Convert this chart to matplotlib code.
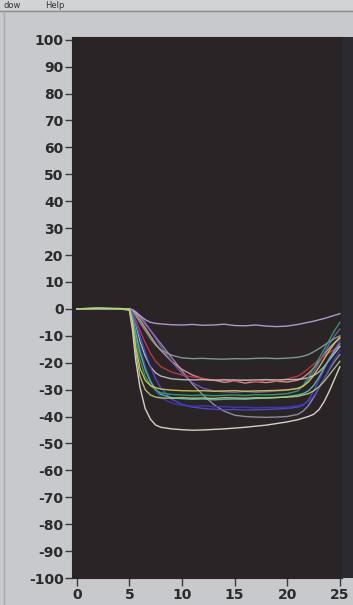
import matplotlib as mpl
import matplotlib.pyplot as plt
from matplotlib.patches import Rectangle
from matplotlib.lines import Line2D

mpl.rcParams['axes.unicode_minus'] = False
mpl.rcParams['font.family'] = 'DejaVu Sans'

# sample times shared by every trace
t = [0, 2, 4, 5, 5.3, 5.6, 6, 6.5, 7, 7.5, 8, 9, 10, 11, 12, 13, 14, 15, 16,
     17, 18, 19, 20, 21, 21.5, 22, 22.5, 23, 23.5, 24, 24.5, 25]

lavender = [0, 0.2, 0, 0, -0.5, -1.2, -2.5, -4, -5, -5.4, -5.6, -5.9, -6.0, -5.8, -6.1, -6.0,
            -5.7, -6.2, -6.3, -6.0, -6.4, -6.6, -6.4, -5.8, -5.4, -5.0, -4.6, -4.1, -3.6, -3.0, -2.4, -1.8]
teal_grey = [0, 0, 0.1, 0, -0.8, -2.5, -5, -8, -11, -13.5, -15.3, -17.2, -18.2, -18.5, -18.4, -18.6,
             -18.7, -18.5, -18.6, -18.4, -18.3, -18.5, -18.3, -18.0, -17.6, -17.0, -16.0, -14.8, -13.5, -12.2, -11, -10]
red = [0, 0, 0, 0, -1.5, -4, -8, -12.5, -16.5, -19.5, -21.5, -23.5, -24.6, -25.3, -25.8, -26.6,
       -26.2, -27.0, -26.5, -27.2, -26.4, -26.8, -26.0, -25.0, -23.8, -22.2, -20.5, -19.0, -17.5, -16.2, -15, -14]
salmon = [0, 0.1, 0, 0, -0.6, -1.8, -4, -7, -10, -13, -15.5, -19.5, -22.5, -24.6, -26.0, -26.5,
          -27.3, -26.8, -27.6, -27.0, -27.4, -26.9, -27.2, -26.5, -25.5, -24.0, -22.0, -19.5, -17.0, -14.5, -12.5, -11]
pale_grey = [0, 0, 0, 0, -2, -6, -12, -17.5, -21.5, -23.8, -25.0, -26.0, -26.3, -26.4, -26.3, -26.5,
             -26.4, -26.4, -26.5, -26.4, -26.3, -26.4, -26.3, -26.2, -26.0, -25.6, -24.8, -23.5, -21.5, -19, -16.5, -14]
purple = [0, 0, 0, 0, -0.3, -1.0, -2.5, -5, -8, -11, -14, -19.5, -24, -27.5, -29.5, -30.5,
          -30.8, -31.0, -30.7, -31.0, -30.8, -30.5, -30.2, -29.5, -28.5, -26.5, -23.5, -20, -16.5, -13, -10, -7.5]
green = [0, 0.2, 0, 0, -4, -11, -19, -25, -28.5, -30.2, -31.2, -31.8, -32.0, -32.2, -32.0, -32.3,
         -32.1, -32.0, -32.2, -31.9, -32.0, -31.8, -31.5, -30.5, -28.5, -25.5, -22, -18.5, -15, -11.5, -8, -5]
cyan = [0, 0, 0, 0, -3, -9, -16, -22.5, -27, -30, -31.8, -33.0, -33.4, -33.6, -33.5, -33.8,
        -33.6, -33.5, -33.6, -33.3, -33.2, -33.0, -32.6, -32.0, -31.5, -30.5, -28.5, -25.5, -22, -18.5, -15.5, -13]
lime = [0, 0.3, 0.1, 0, -6, -16, -25, -30, -32, -32.8, -33.1, -33.2, -33.0, -33.2, -33.1, -33.3,
        -33.0, -33.1, -33.2, -33.0, -33.1, -32.9, -32.8, -32.5, -32.0, -31.5, -30.5, -29, -27, -24.5, -22, -19.5]
blue = [0, 0, 0, 0, -2.5, -7.5, -14, -21, -26.5, -30.5, -33, -35, -35.8, -36.2, -36.0, -36.4,
        -36.3, -36.6, -36.5, -36.8, -36.6, -36.7, -36.5, -36.0, -35.5, -34.5, -32.5, -29.5, -26, -22, -18.5, -15.5]
violet = [0, 0, 0, 0, -1.5, -5, -10, -16, -21.5, -26, -29.5, -33.5, -35.5, -36.5, -37.0, -37.3,
          -37.5, -37.4, -37.6, -37.5, -37.4, -37.2, -37.0, -36.5, -35.8, -34.0, -30.5, -26.5, -22.5, -18.5, -15, -12]
slate = [0, 0, 0, 0, -0.3, -1.2, -3, -5.5, -8, -10.5, -13, -18, -23, -28, -32, -35.5,
         -38, -39.5, -40.0, -40.2, -40.3, -40.2, -40.0, -39.2, -38, -36, -33, -29.5, -26, -22.5, -19.5, -17]
yellow = [0, 0.2, 0.1, 0, -5, -14, -22, -26.5, -28.5, -29.3, -29.8, -30.2, -30.4, -30.5, -30.4, -30.6,
          -30.5, -30.4, -30.6, -30.5, -30.4, -30.3, -30.1, -29.6, -28.8, -27.2, -24.8, -21.8, -18.6, -15.5, -12.8, -10.5]
cream = [0, 0.1, 0, -0.5, -8, -19, -29, -37, -41, -43.2, -44.0, -44.6, -44.9, -45.1, -45.0, -44.8,
         -44.6, -44.3, -44.0, -43.6, -43.2, -42.6, -42.0, -41.2, -40.6, -40.0, -39.2, -37.5, -34.5, -30.5, -26, -21.5]

traces = [
    (slate, '#9a96aa'), (salmon, '#d69a94'), (purple, '#7c5cc2'), (teal_grey, '#87a49a'),
    (lavender, '#b6a8d8'), (red, '#c43a3e'), (pale_grey, '#c8c4c6'), (violet, '#5a48d0'),
    (blue, '#3c3cbc'), (cyan, '#5cbcc4'), (cream, '#e8e4d4'), (green, '#2ea672'),
    (yellow, '#d8cc52'), (lime, '#b4d072'),
]

yticks = list(range(-100, 101, 10))
xticks = [0, 5, 10, 15, 20, 25]

W, H = 353, 605
fig = plt.figure(figsize=(W / 100, H / 100), dpi=100)
fig.patch.set_facecolor('#c7c9cc')

# window chrome around the plot
fig.add_artist(Rectangle((0, 1 - 10 / H), 1, 10 / H, transform=fig.transFigure,
                         facecolor='#d2d3d5', edgecolor='none'))
fig.add_artist(Line2D([0, 1], [1 - 10.5 / H] * 2, transform=fig.transFigure,
                      color='#8a8c90', lw=1))
fig.add_artist(Line2D([3.5 / W] * 2, [0, 1 - 11 / H], transform=fig.transFigure,
                      color='#a8aaae', lw=1))
fig.add_artist(Rectangle((342 / W, 1 - 578 / H), 11 / W, 541 / H, transform=fig.transFigure,
                         facecolor='#2a2a30', edgecolor='none'))
fig.text(3 / W, 1 - 8 / H, 'dow', fontsize=6, color='#333333', va='baseline')
fig.text(45 / W, 1 - 8 / H, 'Help', fontsize=6, color='#333333', va='baseline')

ax = fig.add_axes([72 / W, 1 - 578 / H, 270 / W, 541 / H])
ax.set_facecolor('#2a2426')

for vals, col in traces:
    ax.plot(t, vals, color=col, lw=1.0, alpha=0.9)

ax.set_xlim(-0.45, 25.2)
ax.set_ylim(-100, 101)
ax.set_yticks(yticks)
ax.set_yticklabels([str(v) for v in yticks])
ax.set_xticks(xticks)
ax.set_xticklabels([str(v) for v in xticks])

for s in ax.spines.values():
    s.set_color('#2a2426')

ax.tick_params(axis='y', length=5, width=1, color='#3a3a3a', pad=1,
               labelsize=10, labelcolor='#2b2b2b')
ax.tick_params(axis='x', length=6, width=1, color='#3a3a3a', pad=1,
               labelsize=10, labelcolor='#2b2b2b')
for lbl in ax.get_xticklabels() + ax.get_yticklabels():
    lbl.set_fontweight('bold')

fig.savefig('out.png', dpi=100, facecolor=fig.get_facecolor())
